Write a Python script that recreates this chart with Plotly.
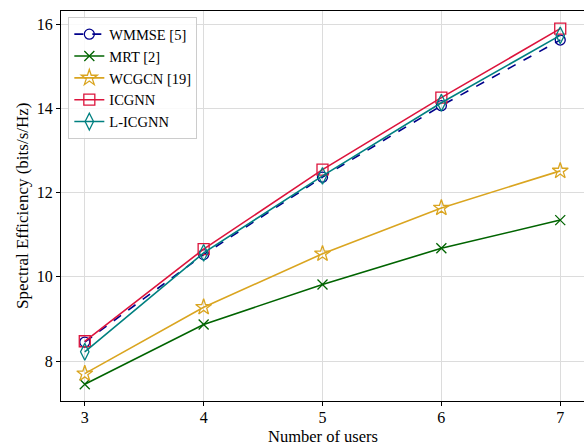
import plotly.graph_objects as go

users = [3, 4, 5, 6, 7]
wmmse = [8.45, 10.53, 12.37, 14.07, 15.63]
mrt = [7.45, 8.87, 9.82, 10.68, 11.35]
wcgcn = [7.70, 9.28, 10.55, 11.64, 12.52]
icgnn = [8.47, 10.66, 12.55, 14.26, 15.90]
licgnn = [8.22, 10.57, 12.40, 14.14, 15.74]

series = [
    ("WMMSE [5]", wmmse, "#00008B", "circle-open", "dash", 10),
    ("MRT [2]", mrt, "#006400", "x-thin-open", "solid", 10),
    ("WCGCN [19]", wcgcn, "#DAA520", "star-open", "solid", 12),
    ("ICGNN", icgnn, "#DC143C", "square-open", "solid", 11),
    ("L-ICGNN", licgnn, "#008080", "diamond-tall-open", "solid", 12),
]

fig = go.Figure()
for name, vals, color, sym, dash, msize in series:
    fig.add_trace(go.Scatter(
        x=users, y=vals, name=name, mode="lines+markers",
        line=dict(color=color, width=1.6, dash=dash),
        marker=dict(symbol=sym, size=msize, color=color,
                    line=dict(color=color, width=1.3)),
    ))

font_family = "Liberation Serif, Times New Roman, serif"
fig.update_layout(
    width=584, height=445,
    margin=dict(l=61, r=0, t=11, b=44, autoexpand=False),
    paper_bgcolor="white", plot_bgcolor="white",
    font=dict(family=font_family, size=16, color="black"),
    showlegend=True,
    legend=dict(
        x=0.014, y=0.984, xanchor="left", yanchor="top",
        bgcolor="rgba(255,255,255,0.85)", bordercolor="#cccccc", borderwidth=1,
        font=dict(family=font_family, size=14.5, color="black"),
        tracegroupgap=0, itemwidth=30,
    ),
    xaxis=dict(
        range=[2.8, 7.2], tickvals=users, ticktext=[str(u) for u in users],
        showgrid=True, gridcolor="#dcdcdc", gridwidth=1,
        showline=True, linecolor="black", linewidth=1.2, mirror=True,
        ticks="outside", ticklen=4, tickcolor="black",
        tickfont=dict(size=16), automargin=False, ticklabelstandoff=-2,
        zeroline=False,
    ),
    yaxis=dict(
        range=[7.05, 16.32], tickvals=[8, 10, 12, 14, 16],
        showgrid=True, gridcolor="#dcdcdc", gridwidth=1,
        showline=True, linecolor="black", linewidth=1.2, mirror=False,
        ticks="outside", ticklen=4, tickcolor="black",
        tickfont=dict(size=16), automargin=False,
        zeroline=False,
    ),
    annotations=[
        dict(text="Number of users", xref="paper", yref="paper",
             x=0.5, y=0, yshift=-35.5, xanchor="center", yanchor="middle",
             showarrow=False, font=dict(size=16.5)),
        dict(text="Spectral Efficiency (bits/s/Hz)", xref="paper", yref="paper",
             x=0, xshift=-39, y=0.5, xanchor="center", yanchor="middle",
             textangle=-90, showarrow=False, font=dict(size=17)),
    ],
)

fig.write_html(
    "out.html",
    config={"displayModeBar": False},
    post_script="document.body.style.margin='0px';document.body.style.overflow='hidden';",
)
